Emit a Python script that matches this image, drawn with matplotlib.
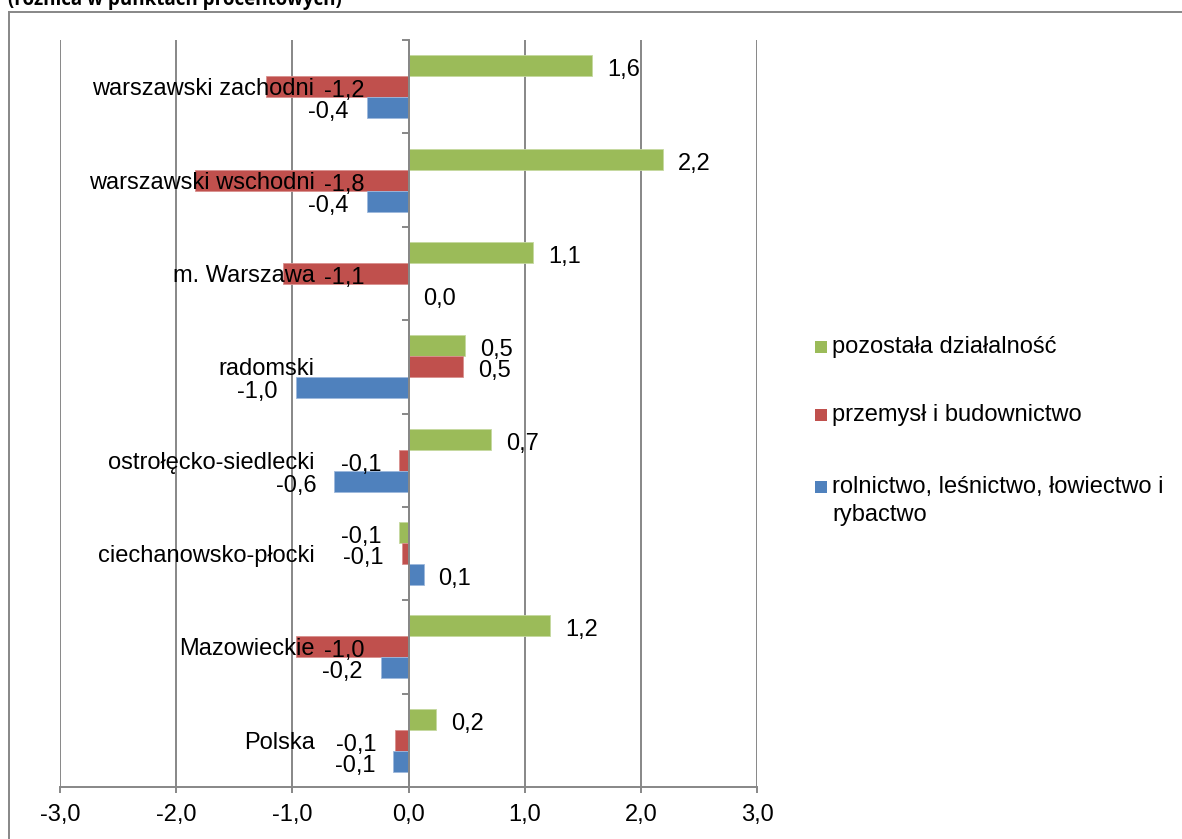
import matplotlib
matplotlib.use("Agg")
import matplotlib.pyplot as plt
from matplotlib.patches import Rectangle
from matplotlib.lines import Line2D
import numpy as np

# ---- data ----
categories = ["Polska", "Mazowieckie", "ciechanowsko-płocki", "ostrołęcko-siedlecki",
              "radomski", "m. Warszawa", "warszawski wschodni", "warszawski zachodni"]
pozostala = [0.24, 1.22, -0.08, 0.71, 0.49, 1.07, 2.19, 1.58]
przemysl = [-0.12, -0.97, -0.06, -0.08, 0.47, -1.08, -1.84, -1.23]
rolnictwo = [-0.13, -0.24, 0.13, -0.64, -0.97, 0.0, -0.36, -0.36]
series_names = ["pozostała działalność", "przemysł i budownictwo",
                "rolnictwo, leśnictwo, łowiectwo i\nrybactwo"]
# negative labels of "przemysł" placed at the bar base (inside) as in the source
przemysl_label_at_base = [False, True, False, False, False, True, True, True]
xticks = [-3, -2, -1, 0, 1, 2, 3]
xticklabels = ["-3,0", "-2,0", "-1,0", "0,0", "1,0", "2,0", "3,0"]

GREEN = "#9BBB59"
RED = "#C0504D"
BLUE = "#4F81BD"
GRID = "#878787"
FONT = "Liberation Sans"
FS = 17

plt.rcParams['font.family'] = [FONT, 'DejaVu Sans']

W, H = 1182, 839
fig = plt.figure(figsize=(W / 100, H / 100), dpi=100)
ax = fig.add_axes([60 / W, 1 - 787 / H, 697 / W, 747 / H])

n = len(categories)
y = np.arange(n)
bh = 0.225

ax.barh(y + bh, pozostala, height=bh, color=GREEN, edgecolor="#c5d9a0", linewidth=0.6, zorder=1)
ax.barh(y, przemysl, height=bh, color=RED, edgecolor="#d9908e", linewidth=0.6, zorder=1)
ax.barh(y - bh, rolnictwo, height=bh, color=BLUE, edgecolor="#9db8dc", linewidth=0.6, zorder=1)

ax.set_xlim(-3, 3)
ax.set_ylim(-0.5, n - 0.5)

# gridlines behind bars
ax.vlines(xticks, -0.5, n - 0.5, colors=GRID, linewidth=1.4, zorder=0)

ux = 6 / 697.0      # data units per pixel (x)
uy = n / 747.0      # data units per pixel (y)


def fmt(v):
    return f"{v:.1f}".replace(".", ",").replace("-0,0", "0,0")


def label(v, yy, at_base=False):
    yb = yy - 10.5 * uy
    if v >= 0:
        ax.text(v + 15 * ux, yb, fmt(v), ha="left", va="baseline", fontsize=FS, zorder=3)
    elif at_base:
        ax.text(-44 * ux, yb, fmt(v), ha="right", va="baseline", fontsize=FS, zorder=3)
    else:
        ax.text(v - 18 * ux, yb, fmt(v), ha="right", va="baseline", fontsize=FS, zorder=3)


for i in range(n):
    label(pozostala[i], y[i] + bh)
    label(przemysl[i], y[i], przemysl_label_at_base[i])
    label(rolnictwo[i], y[i] - bh)

# axes styling
for s in ["top", "right"]:
    ax.spines[s].set_visible(False)
ax.spines["left"].set_position(("data", 0))
ax.spines["left"].set_color(GRID)
ax.spines["left"].set_linewidth(1.4)
ax.spines["bottom"].set_color(GRID)
ax.spines["bottom"].set_linewidth(1.4)

ax.set_xticks(xticks)
ax.set_xticklabels(xticklabels, fontsize=FS)
ax.tick_params(axis="x", direction="out", length=4.5, width=1.4, color=GRID, pad=8)

ax.set_yticks(np.arange(-0.5, n, 1.0))
ax.set_yticklabels([])
ax.tick_params(axis="y", which="major", direction="out", length=5, width=1.4, color=GRID)
ax.set_yticks(y, minor=True)
ax.set_yticklabels(categories, minor=True, fontsize=FS)
ax.tick_params(axis="y", which="minor", length=0, pad=94 * 0.72)

# legend (drawn as in the source: square aligned with first text line)
leg_colors = [GREEN, RED, BLUE]
leg_square_top = [341, 409, 481]   # pixel rows
line_step = 28.5
for col, name, top in zip(leg_colors, series_names, leg_square_top):
    fig.add_artist(Rectangle((815 / W, 1 - (top + 12) / H), 12 / W, 12 / H,
                             transform=fig.transFigure, facecolor=col, edgecolor="none"))
    for k, line in enumerate(name.split("\n")):
        fig.text(832 / W, 1 - (top + 12 + k * line_step) / H, line, fontsize=FS,
                 ha="left", va="baseline")

# outer chart frame and cut-off title
fig.add_artist(Line2D([8.5 / W, 8.5 / W], [0, 1 - 12 / H], color=GRID, linewidth=1.4))
fig.add_artist(Line2D([8.5 / W, 1], [1 - 12 / H, 1 - 12 / H], color=GRID, linewidth=1.4))
fig.text(8 / W, 1 - 4.5 / H, "(różnica w punktach procentowych)", fontsize=13.5,
         fontweight="bold", family=["Open Sans", "DejaVu Sans"], va="baseline", ha="left")

fig.savefig("out.png", dpi=100)
